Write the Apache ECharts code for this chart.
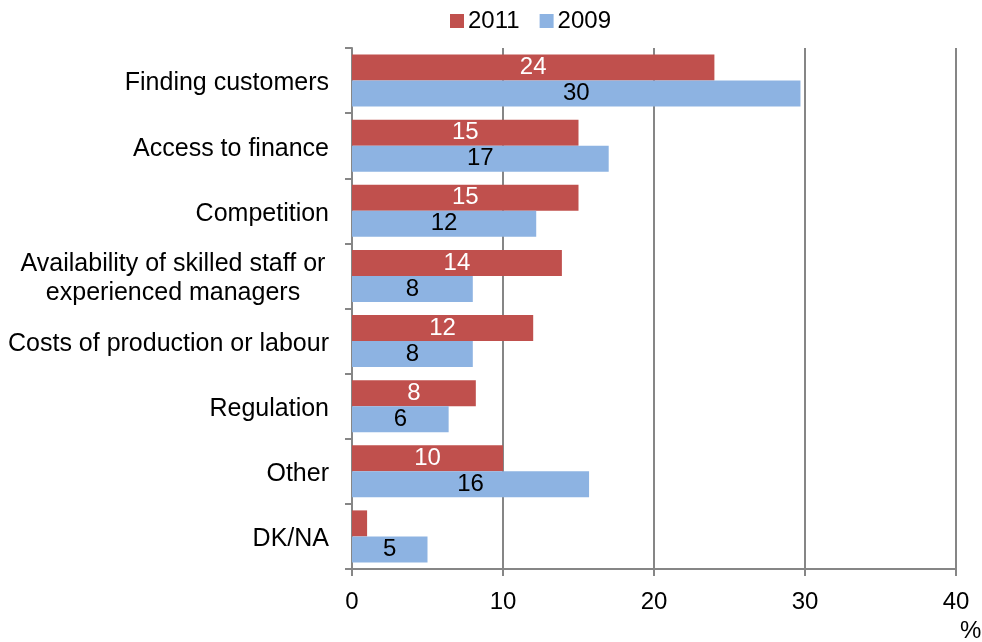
<!DOCTYPE html>
<html>
<head>
<meta charset="utf-8">
<script src="https://cdn.jsdelivr.net/npm/echarts@6/dist/echarts.min.js"></script>
<style>
  html, body { margin: 0; padding: 0; background: #fff; }
  #chart { width: 982px; height: 642px; }
</style>
</head>
<body>
<div id="chart"></div>
<script>
// Main obstacles faced by businesses, share of respondents (%)
const categories = [
  'Finding customers',
  'Access to finance',
  'Competition',
  'Availability of skilled staff or\nexperienced managers',
  'Costs of production or labour',
  'Regulation',
  'Other',
  'DK/NA'
];
const seriesNames = ['2011', '2009'];
const values2011 = [24, 15, 15, 13.9, 12, 8.2, 10, 1];
const values2009 = [29.7, 17, 12.2, 8, 8, 6.4, 15.7, 5];
const xTicks = [0, 10, 20, 30, 40];

const FONT = '"Liberation Sans", Arial, Helvetica, sans-serif';
const AXIS_GREY = '#868686';

const chart = echarts.init(document.getElementById('chart'), null, { renderer: 'canvas' });

function labelFormatter(p) {
  return String(Math.round(p.value));
}

chart.setOption({
  animation: false,
  backgroundColor: '#ffffff',
  textStyle: { fontFamily: FONT },
  legend: {
    top: 4,
    left: 445,
    itemWidth: 14,
    itemHeight: 14,
    itemGap: 20,
    icon: 'rect',
    textStyle: { fontSize: 24, color: '#000', fontFamily: FONT, padding: [0, 0, 0, -1] },
    data: seriesNames
  },
  grid: { left: 352, right: 26, top: 48, bottom: 73, containLabel: false },
  xAxis: {
    type: 'value',
    min: xTicks[0],
    max: xTicks[xTicks.length - 1],
    interval: 10,
    axisLine: { show: true, lineStyle: { color: AXIS_GREY, width: 2 } },
    axisTick: { show: true, length: 7, lineStyle: { color: AXIS_GREY, width: 2 } },
    splitLine: { show: true, lineStyle: { color: AXIS_GREY, width: 2 } },
    axisLabel: { fontSize: 24, color: '#000', fontFamily: FONT, margin: 21 }
  },
  yAxis: {
    type: 'category',
    inverse: true,
    data: categories,
    axisLine: { show: true, lineStyle: { color: AXIS_GREY, width: 2 } },
    axisTick: { show: true, length: 7, inside: false, lineStyle: { color: AXIS_GREY, width: 2 } },
    axisLabel: {
      fontSize: 25,
      color: '#000',
      fontFamily: FONT,
      margin: 23,
      lineHeight: 29,
      padding: [6, 0, 0, 0],
      formatter: function (v) {
        if (v.indexOf('\n') >= 0) {
          return v.split('\n').map(s => '{c|' + s + '}').join('\n');
        }
        return v;
      },
      rich: {
        c: { width: 312, align: 'center', fontSize: 25, lineHeight: 29, fontFamily: FONT, color: '#000' }
      }
    }
  },
  series: [
    {
      name: seriesNames[0],
      type: 'bar',
      data: values2011.map(v => v < 2 ? { value: v, label: { show: false } } : v),
      barCategoryGap: '20%',
      barGap: '0%',
      itemStyle: { color: '#C0504D' },
      label: {
        show: true,
        position: 'inside',
        color: '#ffffff',
        fontSize: 24,
        fontFamily: FONT,
        formatter: labelFormatter
      }
    },
    {
      name: seriesNames[1],
      type: 'bar',
      data: values2009,
      barCategoryGap: '20%',
      barGap: '0%',
      itemStyle: { color: '#8DB3E2' },
      label: {
        show: true,
        position: 'inside',
        color: '#000000',
        fontSize: 24,
        fontFamily: FONT,
        formatter: labelFormatter
      }
    }
  ],
  graphic: [
    {
      type: 'text',
      left: 960,
      top: 619,
      style: { text: '%', fontSize: 24, fontFamily: FONT, fill: '#000' }
    }
  ]
});
</script>
</body>
</html>
